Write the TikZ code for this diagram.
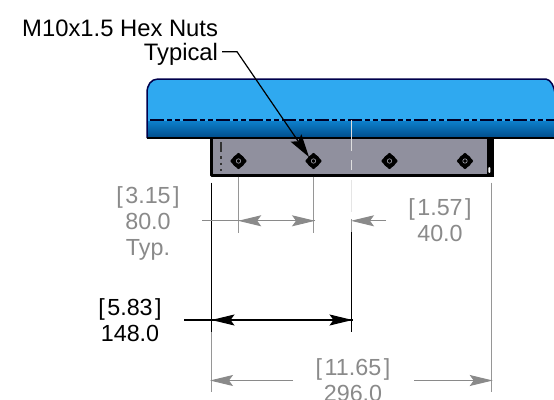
\documentclass[tikz,border=0pt]{standalone}
\usepackage{fontspec}
\setmainfont{Liberation Sans}
\usetikzlibrary{arrows.meta}
\definecolor{dimgray}{HTML}{8A8A8A}
\definecolor{bluebody}{HTML}{2FA9F0}
\definecolor{bluemid}{HTML}{0D7FCB}
\definecolor{bluedark}{HTML}{004C8A}
\definecolor{platecol}{HTML}{90909E}
\newcommand{\brk}[1]{\mbox{[\hspace{2.5pt}#1\hspace{2.5pt}]}}
\tikzset{
  grayhead/.tip={Stealth[length=23pt,width=11pt,inset=4pt]},
  blackhead/.tip={Stealth[length=23pt,width=11pt,inset=4pt]},
  label/.style={font=\fontsize{23.3}{23.3}\selectfont,anchor=base,inner sep=0pt,outer sep=0pt},
  graylabel/.style={label,text=dimgray},
  toplabel/.style={font=\fontsize{23.8}{23.8}\selectfont,anchor=base east,inner sep=0pt,outer sep=0pt},
  graydim/.style={draw=dimgray,line width=1pt},
  blackdim/.style={draw=black,line width=1.1pt},
  graydimarrow/.style={graydim,-{grayhead[fill=dimgray]}},
  blackdimarrow/.style={blackdim,-{blackhead[fill=black]}},
  extline/.style={draw=dimgray!90,line width=1pt},
}
\newcommand{\nut}[2]{%
  \fill[black,rounded corners=2pt] (#1-9,#2) -- (#1-4,#2-4) -- (#1,#2-9) -- (#1+4,#2-4) -- (#1+9,#2) -- (#1+4,#2+4) -- (#1,#2+9) -- (#1-4,#2+4) -- cycle;
  \fill[black] (#1,#2) circle[radius=6.5];
  \draw[platecol!80!white,line width=0.6pt] (#1,#2) circle[radius=2.2];
}
\begin{document}
\begin{tikzpicture}[x=1pt,y=-1pt]
\useasboundingbox (0,0) rectangle (554,399);
\clip (0,0) rectangle (554,399);
\fill[white] (0,0) rectangle (554,399);
% blue body
\fill[bluebody] (147,138) -- (147,93) .. controls (147,85) and (151,79) .. (158,79) -- (546,79) .. controls (551,80) and (554,86) .. (555,93) -- (555,138) -- cycle;
\fill[top color=bluemid,bottom color=bluedark] (147,121) rectangle (555,138);
\draw[draw=black!70!blue,line width=1.5pt] (147,138) -- (147,93) .. controls (147,85) and (151,79) .. (158,79) -- (546,79) .. controls (551,80) and (554,86) .. (555,93);
\draw[black,line width=1.5pt] (147,138) -- (555,138);
\draw[draw=black!85!blue,line width=1.8pt,dash pattern=on 14pt off 3pt on 5pt off 3pt on 5pt off 3pt] (150,120) -- (555,120);
% grey plate
\fill[platecol] (211,139) rectangle (492,175);
\draw[black,line width=2.8pt,line join=round] (211.5,139) -- (211.5,175.3) -- (492,175.3);
\fill[black] (487,139) rectangle (493.5,176.7);
\fill[white,draw=black,line width=1pt,rounded corners=1pt] (487.8,166.5) rectangle (490.8,173.5);
\draw[black!80,line width=2pt,dash pattern=on 10pt off 4pt on 2.5pt off 4pt on 2.5pt off 4pt on 2pt off 4pt] (221,142) -- (221,171);
\nut{238.5}{161}
\nut{313.5}{161}
\nut{389.5}{161}
\nut{465}{161}
% centre line
\draw[white!75!gray,line width=1pt] (351.7,120) -- (351.7,151);
\draw[white!75!gray,line width=1pt] (351.7,160) -- (351.7,170);
\draw[white!80!gray,line width=1pt] (351.7,180) -- (351.7,212);
% coordinates
\coordinate (p80l) at (238.2,220.8);
\coordinate (p80r) at (315,220.8);
\coordinate (p80stub) at (202,220.8);
\coordinate (p40) at (351,220.8);
\coordinate (p40t) at (386,220.8);
\coordinate (p148l) at (211.5,320);
\coordinate (p148r) at (352.5,320);
\coordinate (p148stub) at (184,320);
\coordinate (p296l) at (210,380.5);
\coordinate (p296lt) at (293,380.5);
\coordinate (p296r) at (492.7,380.5);
\coordinate (p296rt) at (414,380.5);
% extension lines
\draw[extline] (238.2,176.5) -- (238.2,232.5);
\draw[extline] (313.7,176.5) -- (313.7,232.5);
\draw[extline] (211.7,331) -- (211.7,391.5);
\draw[extline] (491.2,182.5) -- (491.2,391.5);
\draw[extline] (351.7,219) -- (351.7,233);
\draw[black,line width=1.1pt] (211.7,182.5) -- (211.7,331.5);
\draw[black,line width=1.1pt] (351.7,232) -- (351.7,331.5);
% dimensions
\draw[graydim] (p80stub) -- (p80l);
\draw[graydimarrow] (p80r) -- (p80l);
\draw[graydimarrow] (p80l) -- (p80r);
\draw[graydimarrow] (p40t) -- (p40);
\draw[blackdim] (p148stub) -- (p148l);
\draw[blackdimarrow] (p148r) -- (p148l);
\draw[blackdimarrow] (p148l) -- (p148r);
\draw[graydimarrow] (p296lt) -- (p296l);
\draw[graydimarrow] (p296rt) -- (p296r);
% labels
\node[graylabel] (t315) at (148,203.5) {\brk{3.15}};
\node[graylabel] (t80) at (148,229.5) {80.0};
\node[graylabel] (ttyp) at (148,255.5) {Typ.};
\node[graylabel] (t157) at (440,215.5) {\brk{1.57}};
\node[graylabel] (t40) at (440,241.5) {40.0};
\node[label] (t583) at (130,315.5) {\brk{5.83}};
\node[label] (t148) at (130,341.5) {148.0};
\node[graylabel] (t1165) at (353,375.5) {\brk{11.65}};
\node[graylabel] (t296) at (353,401.5) {296.0};
\node[toplabel] (tnuts) at (218,36.5) {M10x1.5 Hex Nuts};
\node[toplabel] (ttypical) at (218,60) {Typical};
% leader
\coordinate (nuttarget) at (309,157);
\coordinate (leaderbend) at (237,51.7);
\draw[black,line width=1.2pt,-{Stealth[length=23pt,width=13pt,inset=4pt]}] (ttypical.east |- leaderbend) ++(4,0) -- (leaderbend) -- (nuttarget);
\end{tikzpicture}
\end{document}
